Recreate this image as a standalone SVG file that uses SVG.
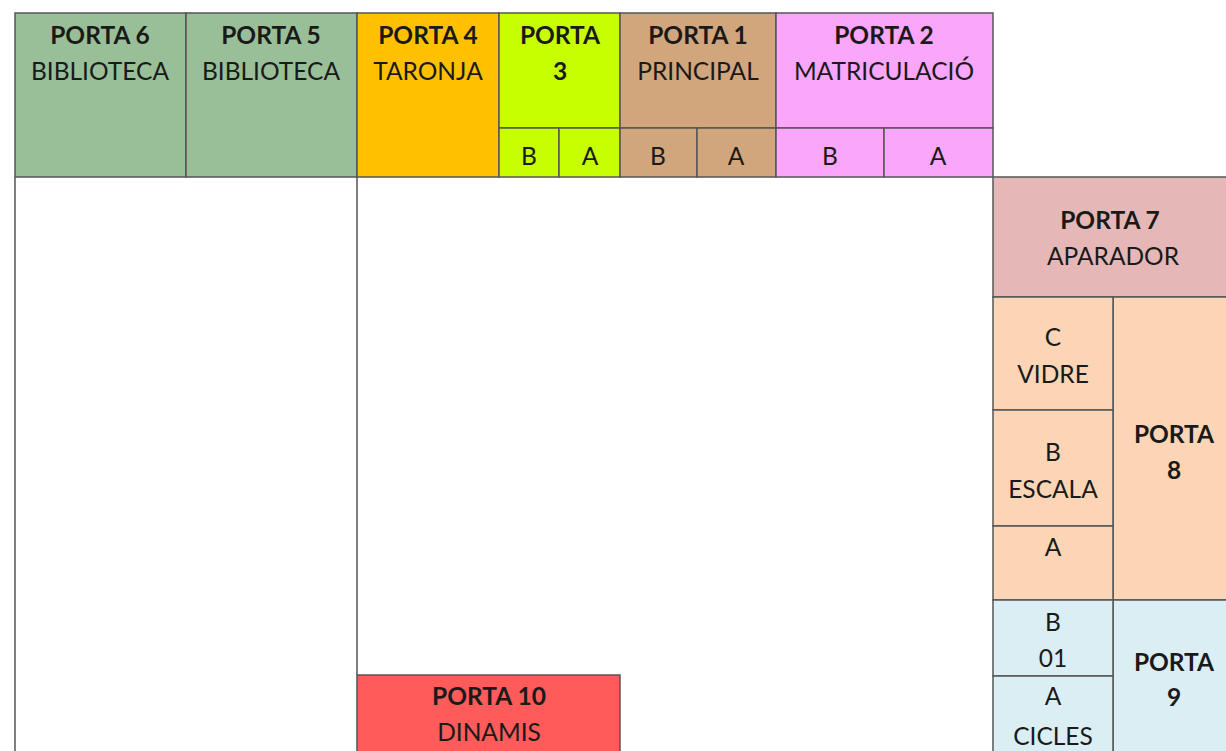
<svg xmlns="http://www.w3.org/2000/svg" width="1226" height="751" viewBox="0 0 1226 751">
<style>
.c{stroke:#555;stroke-width:1.5}
.l{stroke:#555;stroke-width:1.5;fill:none}
text{font-family:Lato,"Liberation Sans",sans-serif;font-size:24.5px;fill:#1a1a1a;text-anchor:middle}
.b{font-weight:bold}
</style>
<rect x="0" y="0" width="1226" height="751" fill="#fff"/>
<g id="frame">
<line class="l" x1="15" y1="177" x2="15" y2="751"/>
<line class="l" x1="357" y1="177" x2="357" y2="675"/>
</g>
<g id="porta6"><rect class="c" x="15" y="13" width="171" height="164" fill="#99BF98"/>
<text x="100" y="44" class="b">PORTA 6</text><text x="100" y="80">BIBLIOTECA</text></g>
<g id="porta5"><rect class="c" x="186" y="13" width="171" height="164" fill="#99BF98"/>
<text x="271" y="44" class="b">PORTA 5</text><text x="271" y="80">BIBLIOTECA</text></g>
<g id="porta4"><rect class="c" x="357" y="13" width="142" height="164" fill="#FFC000"/>
<text x="428" y="44" class="b">PORTA 4</text><text x="428" y="80">TARONJA</text></g>
<g id="porta3"><rect class="c" x="499" y="13" width="121" height="115" fill="#C8FF00"/>
<text x="560" y="44" class="b">PORTA</text><text x="560" y="80" class="b">3</text>
<rect class="c" x="499" y="128" width="60" height="49" fill="#C8FF00"/><text x="529" y="165">B</text>
<rect class="c" x="559" y="128" width="61" height="49" fill="#C8FF00"/><text x="590" y="165">A</text></g>
<g id="porta1"><rect class="c" x="620" y="13" width="156" height="115" fill="#D1A67D"/>
<text x="698" y="44" class="b">PORTA 1</text><text x="698" y="80">PRINCIPAL</text>
<rect class="c" x="620" y="128" width="77" height="49" fill="#D1A67D"/><text x="658" y="165">B</text>
<rect class="c" x="697" y="128" width="79" height="49" fill="#D1A67D"/><text x="736" y="165">A</text></g>
<g id="porta2"><rect class="c" x="776" y="13" width="217" height="115" fill="#FAA6FA"/>
<text x="884" y="44" class="b">PORTA 2</text><text x="884" y="80">MATRICULACIÓ</text>
<rect class="c" x="776" y="128" width="108" height="49" fill="#FAA6FA"/><text x="830" y="165">B</text>
<rect class="c" x="884" y="128" width="109" height="49" fill="#FAA6FA"/><text x="938" y="165">A</text></g>
<g id="porta7"><rect class="c" x="993" y="177" width="240" height="120" fill="#E5B8B7"/>
<text x="1110" y="229" class="b">PORTA 7</text><text x="1113" y="265">APARADOR</text></g>
<g id="porta8">
<rect class="c" x="1113" y="297" width="120" height="303" fill="#FBD5B5"/>
<text x="1174" y="443" class="b">PORTA</text><text x="1174" y="479" class="b">8</text>
<rect class="c" x="993" y="297" width="120" height="113" fill="#FBD5B5"/><text x="1053" y="346">C</text><text x="1053" y="383">VIDRE</text>
<rect class="c" x="993" y="410" width="120" height="116" fill="#FBD5B5"/><text x="1053" y="461">B</text><text x="1053" y="498">ESCALA</text>
<rect class="c" x="993" y="526" width="120" height="74" fill="#FBD5B5"/><text x="1053" y="556">A</text>
</g>
<g id="porta9">
<rect class="c" x="1113" y="600" width="120" height="160" fill="#DBEEF3"/>
<text x="1174" y="671" class="b">PORTA</text><text x="1174" y="706" class="b">9</text>
<rect class="c" x="993" y="600" width="120" height="76" fill="#DBEEF3"/><text x="1053" y="631">B</text><text x="1053" y="667">01</text>
<rect class="c" x="993" y="676" width="120" height="84" fill="#DBEEF3"/><text x="1053" y="705">A</text><text x="1053" y="745">CICLES</text>
</g>
<g id="porta10"><rect class="c" x="357" y="675" width="263" height="85" fill="#FF5B5B"/>
<text x="489" y="705" class="b">PORTA 10</text><text x="489" y="741">DINAMIS</text></g>
</svg>
